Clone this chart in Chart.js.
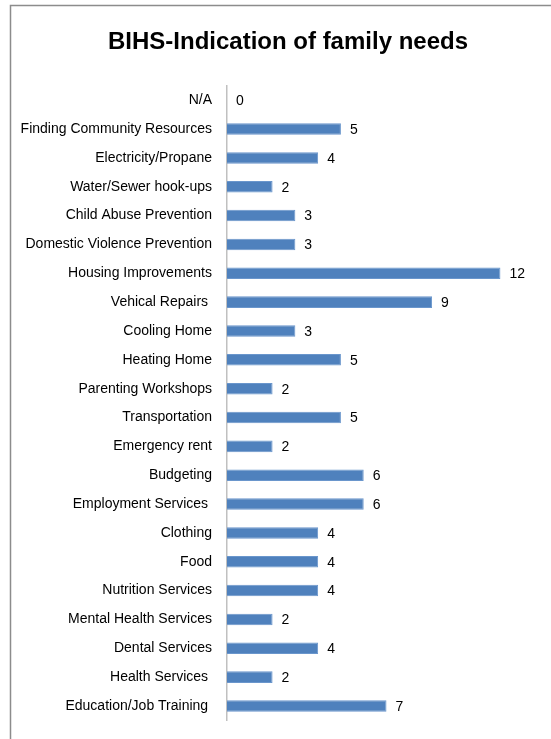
<!DOCTYPE html>
<html>
<head>
<meta charset="utf-8">
<script src="https://cdn.jsdelivr.net/npm/chart.js@4/dist/chart.umd.min.js"></script>
<style>
  html, body { margin: 0; padding: 0; background: #fff; }
  #wrap { position: relative; width: 551px; height: 739px; }
</style>
</head>
<body>
<div id="wrap"><canvas id="c" width="551" height="739"></canvas></div>
<script>
// Family needs reported in the BIHS survey (top to bottom)
const categories = [
  'N/A',
  'Finding Community Resources',
  'Electricity/Propane',
  'Water/Sewer hook-ups',
  'Child Abuse Prevention',
  'Domestic Violence Prevention',
  'Housing Improvements',
  'Vehical Repairs ',
  'Cooling Home',
  'Heating Home',
  'Parenting Workshops',
  'Transportation',
  'Emergency rent',
  'Budgeting',
  'Employment Services ',
  'Clothing',
  'Food',
  'Nutrition Services',
  'Mental Health Services',
  'Dental Services',
  'Health Services ',
  'Education/Job Training '
];
const counts = [0, 5, 4, 2, 3, 3, 12, 9, 3, 5, 2, 5, 2, 6, 6, 4, 4, 4, 2, 4, 2, 7];

const FONT = '"Liberation Sans", Arial, sans-serif';

// Grey outline around the chart block
const framePlugin = {
  id: 'frame',
  beforeDraw(chart) {
    const ctx = chart.ctx;
    ctx.save();
    ctx.strokeStyle = '#8c8c8c';
    ctx.lineWidth = 1.5;
    ctx.strokeRect(10.5, 5.5, 700, 900);
    ctx.restore();
  }
};

// The frame runs off to the right, so centre the title a little further right
const titleShift = {
  id: 'titleShift',
  afterLayout(chart) {
    const t = chart.titleBlock;
    if (t) { t.left += 9; t.right += 9; }
  }
};

// Value written just past the end of each bar
const valueLabels = {
  id: 'valueLabels',
  afterDatasetsDraw(chart) {
    const ctx = chart.ctx;
    const meta = chart.getDatasetMeta(0);
    ctx.save();
    ctx.font = '14px ' + FONT;
    ctx.fillStyle = '#000';
    ctx.textAlign = 'left';
    ctx.textBaseline = 'middle';
    meta.data.forEach((bar, i) => {
      ctx.fillText(String(counts[i]), bar.x + 9, bar.y + 1);
    });
    ctx.restore();
  }
};

new Chart(document.getElementById('c'), {
  type: 'bar',
  data: {
    labels: categories,
    datasets: [{
      data: counts,
      backgroundColor: '#4F81BD',
      borderColor: '#6A96CC',
      borderWidth: 1,
      categoryPercentage: 1,
      barPercentage: 0.4
    }]
  },
  options: {
    indexAxis: 'y',
    responsive: false,
    animation: false,
    layout: { padding: { left: 12, right: 5, top: 0, bottom: 18.6 } },
    plugins: {
      legend: { display: false },
      tooltip: { enabled: false },
      title: {
        display: true,
        text: 'BIHS-Indication of family needs',
        color: '#000',
        font: { family: FONT, size: 24, weight: 'bold' },
        padding: { top: 28, bottom: 29 }
      }
    },
    scales: {
      x: { display: false, min: 0, max: 14 },
      y: {
        afterFit(scale) {
          scale.width = 215;
          scale.paddingTop = 0;
          scale.paddingBottom = 0;
        },
        grid: { display: false, drawTicks: false },
        border: { display: true, color: '#C0C0C0', width: 1.5 },
        ticks: {
          color: '#000',
          padding: 15,
          autoSkip: false,
          font: { family: FONT, size: 14 }
        }
      }
    }
  },
  plugins: [framePlugin, titleShift, valueLabels]
});
</script>
</body>
</html>
